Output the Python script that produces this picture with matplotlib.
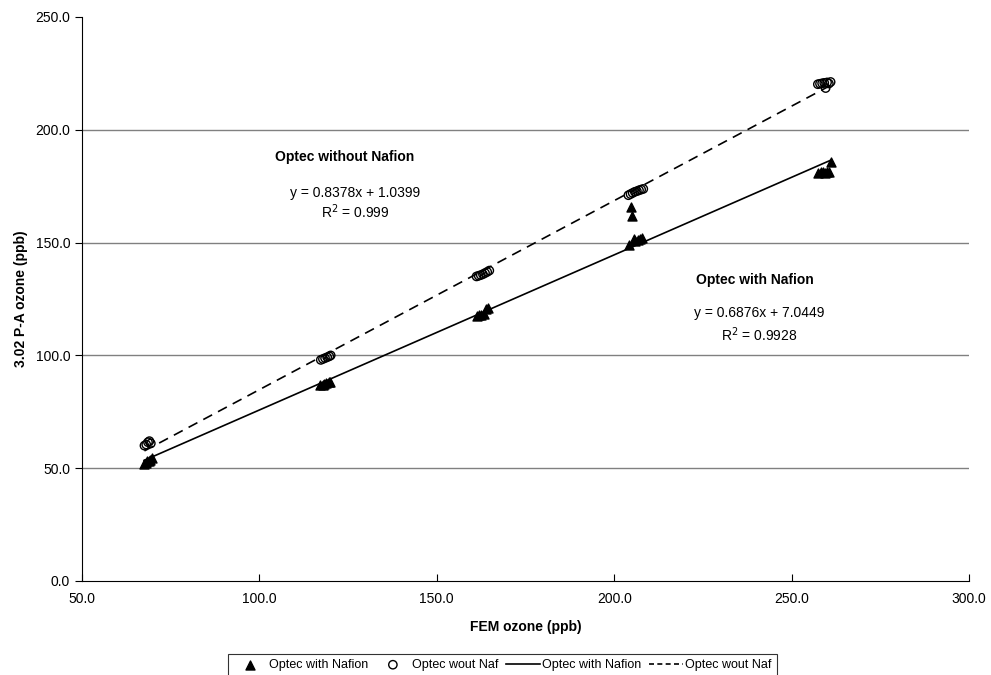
import numpy as np
import matplotlib.pyplot as plt

plt.rcParams['font.family'] = ['Liberation Sans', 'DejaVu Sans']

# Optec with Nafion (triangles)
naf_x = [67.5, 68.0, 68.3, 68.8, 69.2, 69.6,
         117.2, 117.8, 118.3, 118.9, 119.5, 120.0,
         161.3, 161.9, 162.5, 163.2, 163.9, 164.5,
         204.2, 204.6, 205.0, 205.5, 206.0, 206.6, 207.2, 207.9,
         257.5, 258.2, 258.8, 259.4, 260.0, 260.6, 261.0]
naf_y = [52.0, 52.5, 53.0, 53.3, 53.8, 54.5,
         86.8, 87.0, 87.3, 87.6, 88.0, 88.4,
         117.5, 117.8, 118.0, 118.3, 120.5, 121.2,
         149.0, 166.0, 162.0, 151.5, 150.5, 151.0, 151.5, 152.0,
         181.0, 181.2, 181.5, 181.0, 181.3, 181.5, 185.8]

# Optec without Nafion (circles)
wo_x = [67.6, 68.1, 68.6, 69.0, 69.4,
        117.3, 117.9, 118.5, 119.1, 119.7, 120.1,
        161.2, 161.8, 162.4, 163.0, 163.6, 164.2, 164.8,
        204.0, 204.6, 205.2, 205.8, 206.4, 207.0, 207.6, 208.2,
        257.4, 258.0, 258.6, 259.2, 259.6, 260.0, 260.5, 261.0]
wo_y = [60.0, 60.5, 61.5, 62.0, 61.0,
        98.0, 98.4, 98.8, 99.2, 99.6, 100.0,
        135.0, 135.3, 135.6, 136.0, 136.5, 137.0, 137.6,
        171.0, 171.5, 172.0, 172.5, 172.8, 173.2, 173.5, 173.8,
        220.2, 220.4, 220.6, 220.8, 218.5, 221.0, 220.5, 221.2]

# trendlines (from chart)
naf_fit = (0.6876, 7.0449, 0.9928)
wo_fit = (0.8378, 1.0399, 0.999)

fig = plt.figure(figsize=(9.91, 6.75), dpi=100)
ax = fig.add_axes([82/991, 1-581/675, 887/991, 564/675])

ax.scatter(naf_x, naf_y, marker='^', s=42, color='black', zorder=3, label='Optec with Nafion')
ax.scatter(wo_x, wo_y, marker='o', s=36, facecolors='none', edgecolors='black',
           linewidths=1, zorder=3, label='Optec wout Naf')

xl = np.array([min(naf_x), max(naf_x)])
ax.plot(xl, naf_fit[0]*xl + naf_fit[1], color='black', lw=1.2, label='Optec with Nafion')
xl2 = np.array([min(wo_x), max(wo_x)])
ax.plot(xl2, wo_fit[0]*xl2 + wo_fit[1], color='black', lw=1.2, ls=(0, (6, 4)), label='Optec wout Naf')

ax.set_xlim(50, 300)
ax.set_ylim(0, 250)
ax.set_xticks(np.arange(50, 301, 50))
ax.set_yticks(np.arange(0, 251, 50))
ax.xaxis.set_major_formatter(plt.FormatStrFormatter('%.1f'))
ax.yaxis.set_major_formatter(plt.FormatStrFormatter('%.1f'))
ax.tick_params(axis='y', direction='out', length=5, labelsize=10)
ax.tick_params(axis='x', direction='in', length=5, labelsize=10, pad=8)
for yv in [50, 100, 150, 200]:
    ax.axhline(yv, color='#808080', lw=1, zorder=1)
ax.spines['top'].set_visible(False)
ax.spines['right'].set_visible(False)

ax.set_xlabel('FEM ozone (ppb)', fontsize=10, fontweight='bold', labelpad=10)
ax.set_ylabel('3.02 P-A ozone (ppb)', fontsize=10, fontweight='bold', labelpad=5)

ax.text(124.1, 188, 'Optec without Nafion', fontsize=10, fontweight='bold', ha='center', va='center')
ax.text(127, 172, 'y = %.4fx + %.4f' % (wo_fit[0], wo_fit[1]), fontsize=10, ha='center', va='center')
ax.text(127, 163.6, 'R$^2$ = %g' % wo_fit[2], fontsize=10, ha='center', va='center')
ax.text(239.7, 133.4, 'Optec with Nafion', fontsize=10, fontweight='bold', ha='center', va='center')
ax.text(241, 119, 'y = %.4fx + %.4f' % (naf_fit[0], naf_fit[1]), fontsize=10, ha='center', va='center')
ax.text(241, 109, 'R$^2$ = %g' % naf_fit[2], fontsize=10, ha='center', va='center')

leg = fig.legend(loc='upper left', bbox_to_anchor=(228/991, 1-654/675), ncol=4, fontsize=9,
                 frameon=True, fancybox=False, edgecolor='black', handlelength=2.7,
                 columnspacing=0.6, handletextpad=0.2, borderpad=0.4, borderaxespad=0,
                 scatterpoints=1)
leg.get_frame().set_linewidth(0.8)
leg.get_lines()[-1].set_dashes((3, 2)) if len(leg.get_lines()) > 1 else None

fig.savefig('out.png', dpi=100)
